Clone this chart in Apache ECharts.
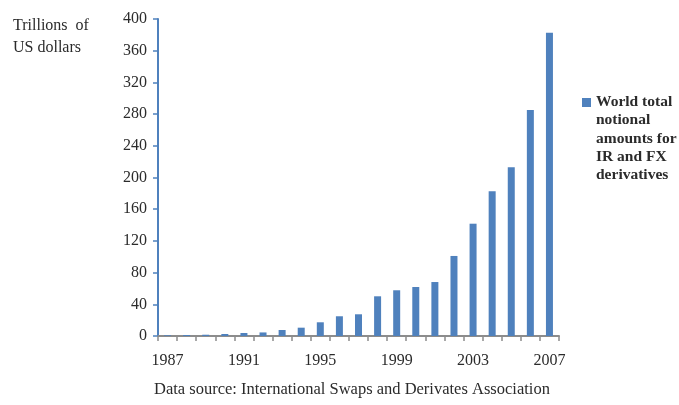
<!DOCTYPE html>
<html>
<head>
<meta charset="utf-8">
<script src="https://cdn.jsdelivr.net/npm/echarts@6/dist/echarts.min.js"></script>
<style>
  html, body { margin: 0; padding: 0; background: #fff; }
  #chart { width: 679px; height: 405px; }
</style>
</head>
<body>
<div id="chart"></div>
<script>
// Notional amounts outstanding, trillions of US dollars
const years = ['1987','1988','1989','1990','1991','1992','1993','1994','1995','1996','1997',
               '1998','1999','2000','2001','2002','2003','2004','2005','2006','2007'];
const notional = [0.9, 1.3, 1.6, 2.5, 3.8, 4.5, 7.6, 10.5, 17.3, 24.9, 27.4,
                  50.1, 57.7, 61.8, 68.1, 101, 141.7, 182.6, 212.9, 285.2, 382.7];
const seriesName = 'World total\nnotional\namounts for\nIR and FX\nderivatives';
const yTitle = 'Trillions  of\nUS dollars';
const sourceNote = 'Data source: International Swaps and Derivates Association';

const serif = '"Liberation Serif", "DejaVu Serif", serif';
const blue = '#4F81BD';
const ink = '#2b2b2b';

// Legend swatch: a 9x9 square at the top of a tall, otherwise empty box, so it
// lines up with the first line of the five-line label instead of its middle.
const lineH = 18.2;
const swatchPath = 'path://M0,0h0.01v0.01h-0.01z M0,5h9v9h-9z M0,' + (5 * lineH - 0.01) + 'h0.01v0.01h-0.01z';

const chart = echarts.init(document.getElementById('chart'));
chart.setOption({
  animation: false,
  textStyle: { fontFamily: serif },
  grid: { left: 158, right: 120, top: 19, bottom: 69 },
  legend: {
    data: [seriesName],
    left: 582, top: 93,
    orient: 'vertical',
    icon: swatchPath,
    itemWidth: 9, itemHeight: 5 * lineH,
    itemGap: 3,
    padding: 0,
    textStyle: { fontFamily: serif, fontSize: 15.5, fontWeight: 'bold', color: ink, lineHeight: lineH }
  },
  graphic: [
    { type: 'text', left: 13, top: 15, style: { text: yTitle, font: '16px ' + serif, fill: ink, lineHeight: 22 } },
    { type: 'text', left: 154, top: 381, style: { text: sourceNote, font: '16.5px ' + serif, fill: ink } }
  ],
  xAxis: {
    type: 'category',
    data: years,
    boundaryGap: true,
    axisLine: { lineStyle: { color: '#8c8c8c', width: 2 } },
    axisTick: { show: true, interval: 0, length: 5, lineStyle: { color: '#8c8c8c', width: 1.5 } },
    axisLabel: { interval: 3, color: ink, fontSize: 16, fontFamily: serif, margin: 17 }
  },
  yAxis: {
    type: 'value',
    min: 0, max: 400, interval: 40,
    splitLine: { show: false },
    axisLine: { show: true, lineStyle: { color: blue, width: 2 } },
    axisTick: { show: true, length: 5, lineStyle: { color: blue, width: 1.5 } },
    axisLabel: { color: ink, fontSize: 16, fontFamily: serif, margin: 11 }
  },
  series: [{
    name: seriesName,
    type: 'bar',
    data: notional,
    barWidth: 7,
    itemStyle: { color: blue }
  }]
});
</script>
</body>
</html>
